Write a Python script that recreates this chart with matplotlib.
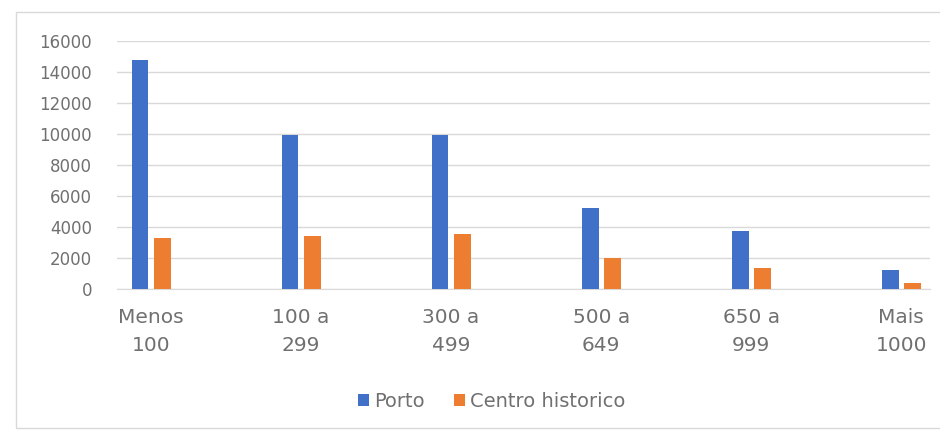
import matplotlib
matplotlib.use("Agg")
import matplotlib.pyplot as plt
import numpy as np
from matplotlib.patches import Rectangle

plt.rcParams['font.family'] = ['DejaVu Sans']

categorias = ["Menos\n100", "100 a\n299", "300 a\n499", "500 a\n649", "650 a\n999", "Mais\n1000"]
porto = [14750, 9950, 9950, 5250, 3750, 1230]
centro_historico = [3300, 3400, 3550, 2000, 1370, 370]
yticks = [0, 2000, 4000, 6000, 8000, 10000, 12000, 14000, 16000]

blue = "#4070C8"
orange = "#ED7D31"
grey_text = "#707070"
grid_col = "#D9D9D9"

fig = plt.figure(figsize=(9.4, 4.3), dpi=100)
ax = fig.add_axes([0.1245, 0.328, 0.865, 0.577])

x = np.arange(len(categorias))
w = 0.113
off = 0.074
ax.bar(x - off, porto, width=w, color=blue, label="Porto", zorder=3)
ax.bar(x + off, centro_historico, width=w, color=orange, label="Centro historico", zorder=3)

ax.set_xlim(-0.227, 5.193)
ax.set_ylim(0, 16000)
ax.set_yticks(yticks)
ax.set_yticklabels([str(v) for v in yticks])
ax.set_xticks(x)
ax.set_xticklabels(categorias, linespacing=1.55)

ax.grid(axis='y', color=grid_col, linewidth=1, zorder=0)
for s in ['top', 'right', 'left']:
    ax.spines[s].set_visible(False)
ax.spines['bottom'].set_color(grid_col)
ax.tick_params(axis='y', length=0, pad=18, labelsize=12, labelcolor=grey_text)
ax.tick_params(axis='x', length=0, pad=14, labelsize=14.5, labelcolor=grey_text)

leg = fig.legend(loc='center', bbox_to_anchor=(0.523, 0.066), ncol=2, frameon=False,
                 fontsize=14, handlelength=0.6, handleheight=0.6, handletextpad=0.25,
                 columnspacing=1.5)
for t in leg.get_texts():
    t.set_color(grey_text)

# chart border
fig.patches.append(Rectangle((16 / 940, 0.004), 1.0, 1 - 12 / 430 - 0.004,
                             transform=fig.transFigure, fill=False,
                             edgecolor=grid_col, linewidth=1))

fig.savefig("out.png", dpi=100)
